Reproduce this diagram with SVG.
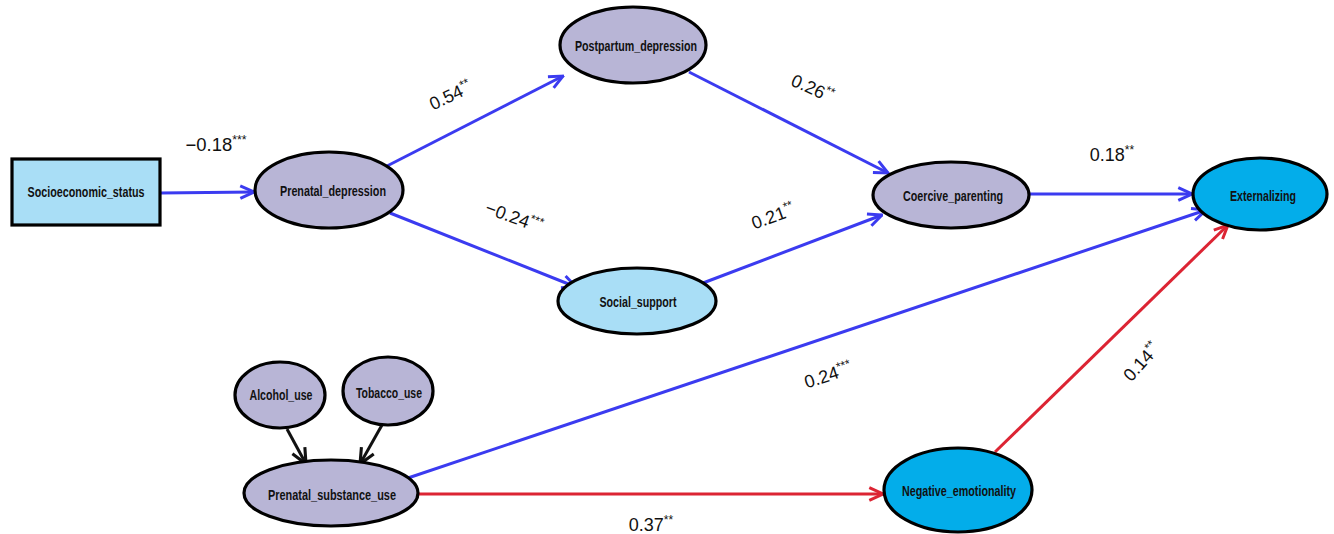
<svg xmlns="http://www.w3.org/2000/svg" width="1334" height="534" viewBox="0 0 1334 534">
<style>
.node{stroke:#000;stroke-width:3.2}
.lav{fill:#b8b5d6}
.lb{fill:#a9def6}
.cy{fill:#03adea}
.nl{font-family:"Liberation Sans",Arial,sans-serif;font-weight:bold;font-size:15px;fill:#111;text-anchor:middle}
.el{font-family:"Liberation Sans",Arial,sans-serif;font-size:18px;fill:#111;text-anchor:middle}
.sup{font-size:12px}
.e{fill:none;stroke-width:3}
.b{stroke:#3b3bf0}
.r{stroke:#dc2433}
.k{stroke:#111}
</style>
<defs>
<marker id="ab" viewBox="0 0 14 14" refX="13" refY="7" markerWidth="16" markerHeight="16" markerUnits="userSpaceOnUse" orient="auto"><path d="M1,1.5 L13,7 L1,12.5" fill="none" stroke="#3b3bf0" stroke-width="2.6"/></marker>
<marker id="ar" viewBox="0 0 14 14" refX="13" refY="7" markerWidth="16" markerHeight="16" markerUnits="userSpaceOnUse" orient="auto"><path d="M1,1.5 L13,7 L1,12.5" fill="none" stroke="#dc2433" stroke-width="2.6"/></marker>
<marker id="ak" viewBox="0 0 14 14" refX="13" refY="7" markerWidth="18" markerHeight="18" markerUnits="userSpaceOnUse" orient="auto"><path d="M1,1.5 L13,7 L1,12.5" fill="none" stroke="#111" stroke-width="2.4"/></marker>
</defs>
<g id="connectors">
<line class="e b" x1="160" y1="193" x2="254" y2="192" marker-end="url(#ab)"/>
<line class="e b" x1="387" y1="166" x2="563" y2="76" marker-end="url(#ab)"/>
<line class="e b" x1="689" y1="72" x2="888" y2="173" marker-end="url(#ab)"/>
<line class="e b" x1="390" y1="213" x2="576" y2="287" marker-end="url(#ab)"/>
<line class="e b" x1="703" y1="283" x2="882" y2="215" marker-end="url(#ab)"/>
<line class="e b" x1="1030" y1="194" x2="1192" y2="194" marker-end="url(#ab)"/>
<line class="e b" x1="405" y1="479" x2="1206" y2="210" marker-end="url(#ab)"/>
<line class="e r" x1="418" y1="494" x2="883" y2="494" marker-end="url(#ar)"/>
<line class="e r" x1="995" y1="452" x2="1228" y2="225" marker-end="url(#ar)"/>
<line class="e k" x1="287" y1="429" x2="306" y2="464" marker-end="url(#ak)"/>
<line class="e k" x1="382" y1="425" x2="360" y2="464" marker-end="url(#ak)"/>
<text class="el" x="216" y="151" textLength="61" lengthAdjust="spacingAndGlyphs">−0.18<tspan class="sup" dy="-7">***</tspan></text>
<text class="el" transform="translate(453,101) rotate(-25)">0.54<tspan class="sup" dy="-7">**</tspan></text>
<text class="el" transform="translate(810,94) rotate(24)">0.26<tspan class="sup" dy="-7">**</tspan></text>
<text class="el" transform="translate(512,223) rotate(20)">−0.24<tspan class="sup" dy="-7">***</tspan></text>
<text class="el" transform="translate(775,222) rotate(-20)">0.21<tspan class="sup" dy="-7">**</tspan></text>
<text class="el" x="1112" y="161">0.18<tspan class="sup" dy="-7">**</tspan></text>
<text class="el" transform="translate(830,381) rotate(-18)">0.24<tspan class="sup" dy="-7">***</tspan></text>
<text class="el" transform="translate(1146,366) rotate(-48)">0.14<tspan class="sup" dy="-7">**</tspan></text>
<text class="el" x="651" y="531">0.37<tspan class="sup" dy="-7">**</tspan></text>
</g>
<g id="ses"><rect class="node lb" x="12" y="159" width="148" height="66"/><text class="nl" x="86" y="197" textLength="117" lengthAdjust="spacingAndGlyphs">Socioeconomic_status</text></g>
<g id="prenatal_depression"><ellipse class="node lav" cx="329" cy="190" rx="74" ry="38"/><text class="nl" x="333" y="196" textLength="106" lengthAdjust="spacingAndGlyphs">Prenatal_depression</text></g>
<g id="postpartum_depression"><ellipse class="node lav" cx="633" cy="45" rx="73" ry="38"/><text class="nl" x="636" y="51" textLength="122" lengthAdjust="spacingAndGlyphs">Postpartum_depression</text></g>
<g id="social_support"><ellipse class="node lb" cx="637" cy="301" rx="79" ry="33"/><text class="nl" x="638" y="307" textLength="77" lengthAdjust="spacingAndGlyphs">Social_support</text></g>
<g id="coercive_parenting"><ellipse class="node lav" cx="951" cy="195" rx="78" ry="33"/><text class="nl" x="953" y="201" textLength="100" lengthAdjust="spacingAndGlyphs">Coercive_parenting</text></g>
<g id="externalizing"><ellipse class="node cy" cx="1260" cy="194" rx="67" ry="36"/><text class="nl" x="1263" y="201" textLength="66" lengthAdjust="spacingAndGlyphs">Externalizing</text></g>
<g id="alcohol_use"><ellipse class="node lav" cx="280" cy="395" rx="45" ry="33"/><text class="nl" x="281" y="400" textLength="63" lengthAdjust="spacingAndGlyphs">Alcohol_use</text></g>
<g id="tobacco_use"><ellipse class="node lav" cx="388" cy="391" rx="45" ry="34"/><text class="nl" x="389" y="398" textLength="66" lengthAdjust="spacingAndGlyphs">Tobacco_use</text></g>
<g id="prenatal_substance_use"><ellipse class="node lav" cx="331" cy="493" rx="87" ry="33"/><text class="nl" x="332" y="500" textLength="128" lengthAdjust="spacingAndGlyphs">Prenatal_substance_use</text></g>
<g id="negative_emotionality"><ellipse class="node cy" cx="958" cy="490" rx="74" ry="42"/><text class="nl" x="959" y="496" textLength="114" lengthAdjust="spacingAndGlyphs">Negative_emotionality</text></g>
</svg>
